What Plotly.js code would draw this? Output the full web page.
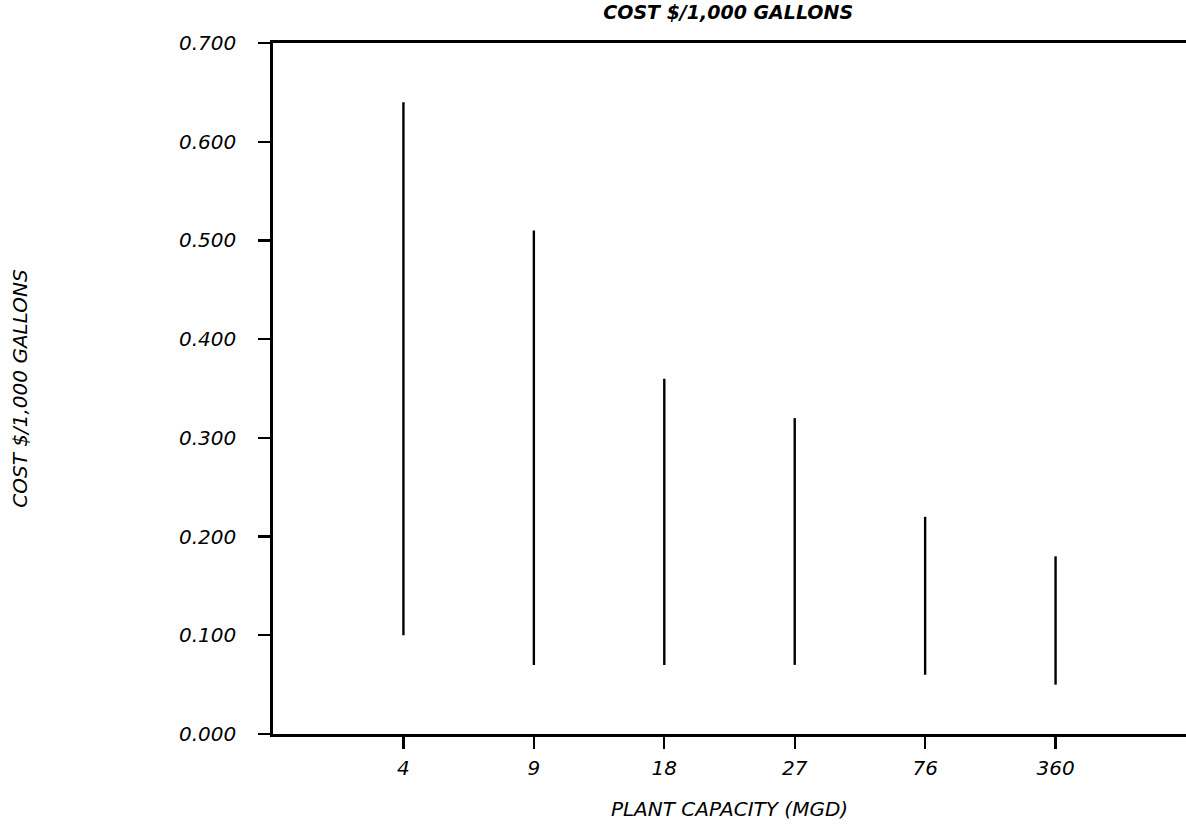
<!DOCTYPE html>
<html>
<head>
<meta charset="utf-8">
<script src="https://cdn.plot.ly/plotly-3.0.1.min.js"></script>
<style>html,body{margin:0;padding:0;background:#fff;}#chart{width:1186px;height:827px;}</style>
</head>
<body>
<div id="chart"></div>
<script>
const categories = ["4", "9", "18", "27", "76", "360"];
const lowCost = [0.10, 0.07, 0.07, 0.07, 0.06, 0.05];
const highCost = [0.64, 0.51, 0.36, 0.32, 0.22, 0.18];
const yTickValues = [0, 0.1, 0.2, 0.3, 0.4, 0.5, 0.6, 0.7];

const xs = [], ys = [];
categories.forEach((c, i) => {
  xs.push(c, c, null);
  ys.push(lowCost[i], highCost[i], null);
});

const fontFam = "DejaVu Sans, Verdana, sans-serif";
const trace = {
  type: "scatter", mode: "lines", x: xs, y: ys,
  line: {color: "#000", width: 2.4},
  hoverinfo: "skip", showlegend: false, connectgaps: false
};

const layout = {
  width: 1186, height: 827,
  margin: {l: 273, r: 0, t: 43, b: 93},
  paper_bgcolor: "#fff", plot_bgcolor: "#fff",
  showlegend: false,
  title: {
    text: "COST $/1,000 GALLONS",
    font: {family: fontFam, size: 19, color: "#000", style: "italic", weight: "bold"},
    x: 0.614, xanchor: "center", y: 0.9855, yanchor: "middle"
  },
  xaxis: {
    type: "category",
    categoryorder: "array", categoryarray: categories,
    range: [-1, 6],
    showgrid: false, zeroline: false,
    showline: true, linecolor: "#000", linewidth: 2.8, mirror: true,
    ticks: "outside", ticklen: 12, tickwidth: 2.2, tickcolor: "#000",
    ticklabelstandoff: 2,
    tickfont: {family: fontFam, size: 20, color: "#000", style: "italic"},
    title: {
      text: "PLANT CAPACITY (MGD)",
      font: {family: fontFam, size: 20, color: "#000", style: "italic"},
      standoff: 24
    },
    fixedrange: true
  },
  yaxis: {
    range: [0, 0.7],
    tickvals: yTickValues, tickformat: ".3f",
    showgrid: false, zeroline: false,
    showline: true, linecolor: "#000", linewidth: 2.8, mirror: false,
    ticks: "outside", ticklen: 12, tickwidth: 2.2, tickcolor: "#000",
    ticklabelstandoff: 18,
    tickfont: {family: fontFam, size: 20, color: "#000", style: "italic"},
    title: {
      text: "COST $/1,000 GALLONS",
      font: {family: fontFam, size: 20, color: "#000", style: "italic"},
      standoff: 146
    },
    fixedrange: true
  }
};

Plotly.newPlot("chart", [trace], layout, {displayModeBar: false, staticPlot: true});
</script>
</body>
</html>
